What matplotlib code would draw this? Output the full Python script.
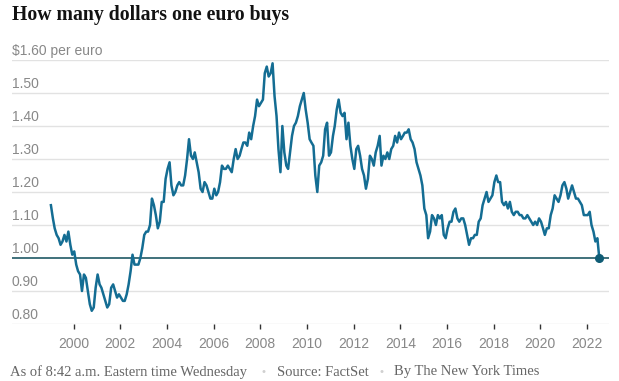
import pandas as pd
import matplotlib.pyplot as plt

# Dólares por euro, uma leitura por mês (jan/1999 a jul/2022)
rate_1999_2004 = [
    1.16, 1.12, 1.09, 1.07, 1.06, 1.04, 1.05, 1.07, 1.05, 1.08, 1.04, 1.01,
    1.02, 0.98, 0.96, 0.95, 0.90, 0.95, 0.94, 0.90, 0.86, 0.84, 0.85, 0.91,
    0.95, 0.92, 0.91, 0.89, 0.87, 0.85, 0.86, 0.91, 0.92, 0.90, 0.88, 0.89,
    0.88, 0.87, 0.87, 0.89, 0.92, 0.96, 1.01, 0.98, 0.98, 0.98, 1.00, 1.03,
    1.07, 1.08, 1.08, 1.10, 1.18, 1.16, 1.13, 1.09, 1.11, 1.17, 1.17, 1.24,
    1.27, 1.29, 1.22, 1.19, 1.20, 1.22, 1.23, 1.22, 1.22, 1.25, 1.30, 1.36,
]
rate_2005_2010 = [
    1.31, 1.30, 1.32, 1.29, 1.26, 1.21, 1.20, 1.23, 1.22, 1.20, 1.18, 1.18,
    1.21, 1.19, 1.20, 1.23, 1.28, 1.27, 1.27, 1.28, 1.27, 1.26, 1.30, 1.33,
    1.30, 1.31, 1.33, 1.35, 1.35, 1.34, 1.38, 1.36, 1.40, 1.43, 1.48, 1.46,
    1.47, 1.48, 1.56, 1.58, 1.55, 1.56, 1.59, 1.49, 1.43, 1.33, 1.26, 1.40,
    1.32, 1.28, 1.27, 1.32, 1.37, 1.40, 1.41, 1.43, 1.46, 1.48, 1.50, 1.45,
    1.41, 1.36, 1.35, 1.34, 1.25, 1.20, 1.28, 1.29, 1.31, 1.39, 1.41, 1.31,
]
rate_2011_2016 = [
    1.32, 1.37, 1.40, 1.45, 1.48, 1.44, 1.43, 1.44, 1.36, 1.41, 1.34, 1.30,
    1.27, 1.33, 1.34, 1.31, 1.27, 1.25, 1.21, 1.24, 1.31, 1.30, 1.28, 1.32,
    1.34, 1.37, 1.28, 1.31, 1.30, 1.32, 1.30, 1.33, 1.34, 1.37, 1.35, 1.38,
    1.36, 1.37, 1.38, 1.38, 1.39, 1.36, 1.35, 1.33, 1.29, 1.27, 1.25, 1.22,
    1.15, 1.13, 1.06, 1.08, 1.13, 1.12, 1.10, 1.13, 1.12, 1.13, 1.07, 1.06,
    1.09, 1.11, 1.11, 1.14, 1.15, 1.12, 1.11, 1.12, 1.12, 1.10, 1.07, 1.04,
]
rate_2017_2022 = [
    1.06, 1.06, 1.07, 1.07, 1.11, 1.12, 1.16, 1.18, 1.20, 1.17, 1.18, 1.19,
    1.23, 1.25, 1.23, 1.23, 1.17, 1.16, 1.17, 1.15, 1.17, 1.14, 1.13, 1.14,
    1.14, 1.13, 1.13, 1.12, 1.12, 1.13, 1.12, 1.11, 1.10, 1.11, 1.10, 1.12,
    1.11, 1.09, 1.07, 1.09, 1.09, 1.13, 1.15, 1.19, 1.18, 1.17, 1.19, 1.22,
    1.23, 1.21, 1.18, 1.20, 1.22, 1.20, 1.18, 1.18, 1.17, 1.16, 1.13, 1.13,
    1.13, 1.14, 1.10, 1.08, 1.05, 1.06, 1.00,
]
rate = rate_1999_2004 + rate_2005_2010 + rate_2011_2016 + rate_2017_2022
dates = pd.date_range('1999-01-01', periods=len(rate), freq='MS') + pd.Timedelta(days=10)

y_ticks = [0.80, 0.90, 1.00, 1.10, 1.20, 1.30, 1.40, 1.50, 1.60]
y_labels = ['0.80', '0.90', '1.00', '1.10', '1.20', '1.30', '1.40', '1.50', '$1.60 per euro']
x_years = list(range(2000, 2023, 2))

line_color = '#146d93'
base_color = '#0b4a57'
grid_color = '#e2e2e2'
label_color = '#888888'

fig = plt.figure(figsize=(6.19, 3.81), dpi=100)
ax = fig.add_axes([12 / 619, 57 / 381, 597 / 619, 264 / 381])

# grade horizontal + rótulos acima das linhas
for v, lab in zip(y_ticks, y_labels):
    if v == 1.00:
        ax.axhline(v, color=base_color, lw=1.1, zorder=3)
    else:
        ax.axhline(v, color=grid_color, lw=1.0, zorder=1)
    ax.annotate(lab, xy=(0, v), xycoords=('axes fraction', 'data'),
                xytext=(0, 3.6), textcoords='offset points',
                ha='left', va='baseline', fontsize=10, color=label_color,
                family='Liberation Sans')

ax.plot(dates, rate, color=line_color, lw=1.8, zorder=4, solid_joinstyle='round')
ax.plot(dates[-1:], rate[-1:], 'o', color='#0f5c75', ms=5.5, zorder=5, clip_on=False)

ax.set_xlim(pd.Timestamp('1997-05-12'), pd.Timestamp('2022-12-10'))
ax.set_ylim(0.80, 1.60)

ax.set_xticks([pd.Timestamp(f'{y}-01-01') for y in x_years])
ax.set_xticklabels([str(y) for y in x_years], fontsize=10, color=label_color,
                   family='Liberation Sans')
ax.tick_params(axis='x', direction='out', length=3.6, width=1, color='#333333', pad=6)
ax.set_yticks([])
for s in ax.spines.values():
    s.set_visible(False)

fig.text(12 / 619, 1 - 15 / 381, 'How many dollars one euro buys', fontsize=14.2,
         fontweight='bold', family='Liberation Serif', color='#121212',
         ha='left', va='center')

# rodapé com separadores em cinza claro
foot_y = 1 - 372 / 381
foot_kw = dict(fontsize=10.5, family='Liberation Serif', color='#666666', va='center', ha='left')
dot_kw = dict(fontsize=8, family='Liberation Sans', color='#d0d0d0', va='center', ha='center')
fig.text(10 / 619, foot_y, 'As of 8:42 a.m. Eastern time Wednesday', **foot_kw)
fig.text(264 / 619, foot_y, '•', **dot_kw)
fig.text(277 / 619, foot_y, 'Source: FactSet', **foot_kw)
fig.text(381 / 619, foot_y, '•', **dot_kw)
fig.text(394 / 619, foot_y, 'By The New York Times', **foot_kw)

fig.savefig('out.png', dpi=100)
